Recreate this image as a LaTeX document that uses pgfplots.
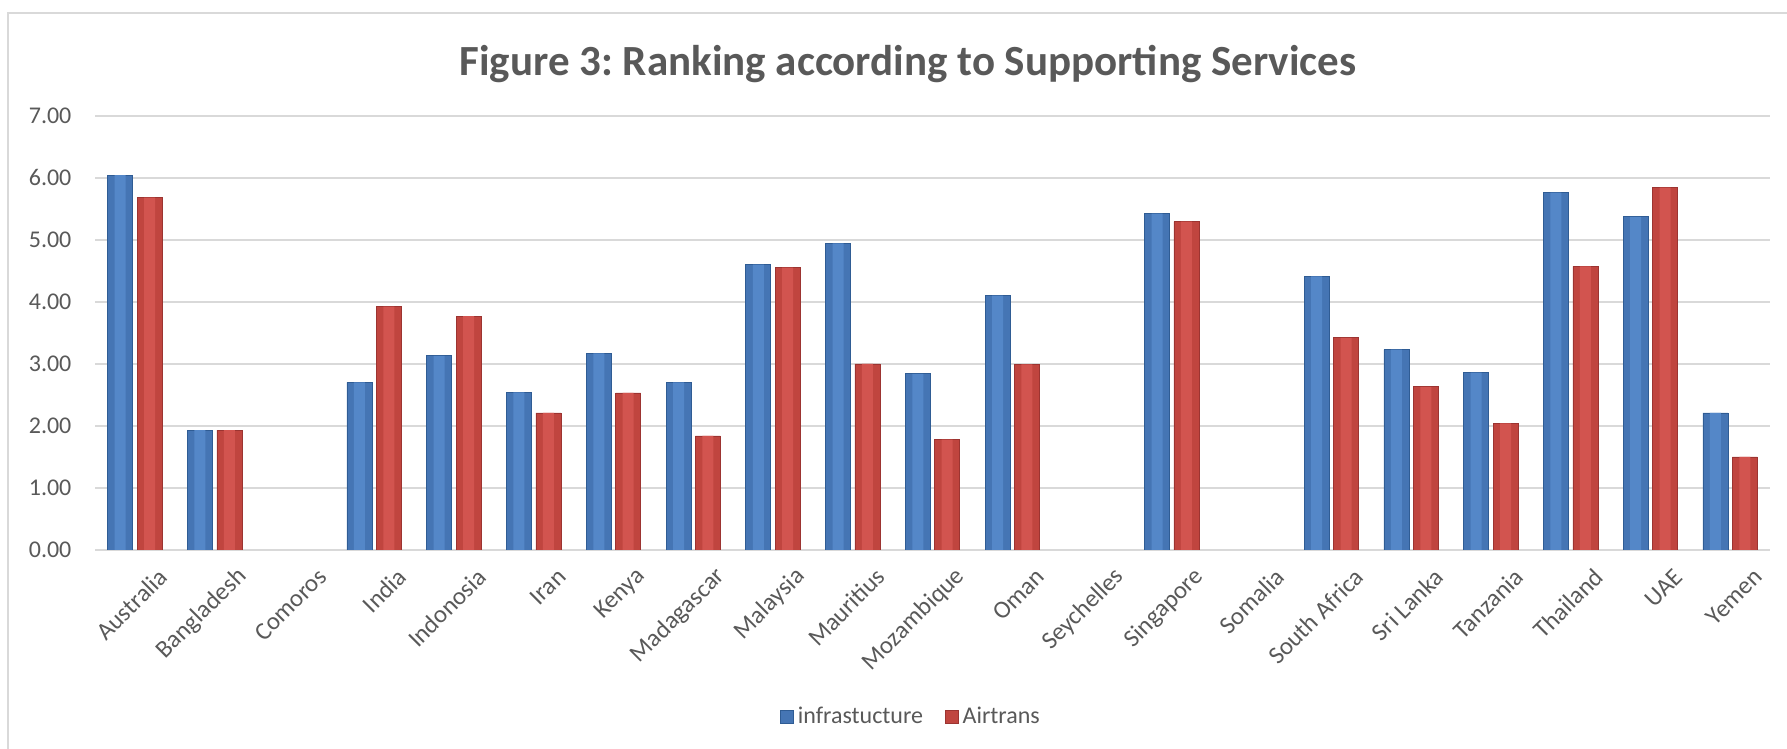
\documentclass[border=0pt]{standalone}
\usepackage{fontspec}
\setmainfont{Carlito}
\usepackage{pgfplots}
\pgfplotsset{compat=1.18}
\definecolor{txt}{HTML}{595959}
\definecolor{gridc}{HTML}{D9D9D9}
\definecolor{blA}{HTML}{2F5C94}
\definecolor{blB}{HTML}{4575B4}
\definecolor{blC}{HTML}{5487C8}
\definecolor{rdA}{HTML}{9C3431}
\definecolor{rdB}{HTML}{C0453F}
\definecolor{rdC}{HTML}{D2544F}
\pgfplotstableread{
x infra air
0 6.04 5.68
1 1.93 1.93
3 2.70 3.92
4 3.13 3.77
5 2.54 2.21
6 3.17 2.53
7 2.70 1.84
8 4.60 4.55
9 4.94 3.00
10 2.84 1.78
11 4.10 2.99
13 5.42 5.29
15 4.41 3.42
16 3.23 2.63
17 2.86 2.04
18 5.76 4.57
19 5.37 5.84
20 2.21 1.50
}\datatable
\begin{document}
\frenchspacing
\begin{tikzpicture}[x=1pt,y=1pt]
\path[use as bounding box] (0,0) rectangle (893.5,374.5);
\begin{scope}
\clip (0,0) rectangle (893.5,374.5);
\draw[gridc, line width=1pt] (4,-20) rectangle (920,368);
\end{scope}
\node[anchor=base, font=\bfseries\fontsize{21.5}{26}\selectfont, text=txt] at (454,336.5) {Figure 3: Ranking according to Supporting Services};
\begin{axis}[
  at={(47.5pt,99.5pt)}, anchor=south west,
  scale only axis, width=837.5pt, height=217.2pt,
  xmin=-0.5, xmax=20.5, ymin=0, ymax=7,
  ybar, bar width=12.5pt,
  xtick={0,...,20},
  xticklabels={Australia,Bangladesh,Comoros,India,Indonosia,Iran,Kenya,Madagascar,Malaysia,Mauritius,Mozambique,Oman,Seychelles,Singapore,Somalia,South Africa,Sri Lanka,Tanzania,Thailand,UAE,Yemen},
  ytick={0,1,...,7},
  ymajorgrids, grid style={gridc, line width=1pt},
  axis line style={draw=none}, major tick length=0pt,
  tick label style={font=\fontsize{12}{14}\selectfont, text=txt},
  /pgf/number format/assume math mode=true,
  yticklabel={\pgfmathprintnumber[fixed,fixed zerofill,precision=2]{\tick}},
  yticklabel style={inner sep=0pt, xshift=-11.6pt},
  xticklabel style={rotate=45, anchor=east, inner sep=0pt, yshift=-18pt, xshift=2pt, font=\fontsize{12.4}{14}\selectfont},
  legend style={at={(0.4878,-0.3835)}, anchor=center, draw=none, fill=none, legend columns=2, font=\fontsize{12}{14}\selectfont, text=txt, /tikz/every even column/.append style={column sep=9pt}},
  legend image code/.code={\path[#1] (0pt,-3.3pt) rectangle (6.5pt,3.3pt);},
]
\addplot[bar shift=-7.35pt, draw=blA, line width=0.3pt, fill=blB] table[x=x,y=infra]{\datatable};
\addplot[bar shift=7.35pt, draw=rdA, line width=0.3pt, fill=rdB] table[x=x,y=air]{\datatable};
\addplot[forget plot, bar shift=-7.35pt, bar width=5.5pt, draw=none, fill=blC] table[x=x,y=infra]{\datatable};
\addplot[forget plot, bar shift=7.35pt, bar width=5.5pt, draw=none, fill=rdC] table[x=x,y=air]{\datatable};
\legend{infrastucture, Airtrans}
\end{axis}
\end{tikzpicture}
\end{document}
